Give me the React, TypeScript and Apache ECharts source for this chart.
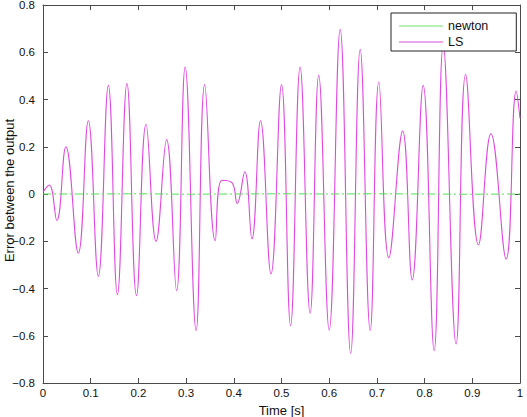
import React, { useEffect, useRef } from "react";
import * as echarts from "echarts";

// LS error signal: local extrema (time [s], error)
const lsTime = [
  0.0, 0.013, 0.029, 0.048, 0.074, 0.095, 0.116, 0.137, 0.156, 0.176, 0.196,
  0.216, 0.237, 0.259, 0.28, 0.298, 0.321, 0.339, 0.361, 0.375, 0.396, 0.407,
  0.423, 0.438, 0.456, 0.478, 0.5, 0.519, 0.539, 0.56, 0.578, 0.6, 0.623,
  0.645, 0.665, 0.686, 0.704, 0.725, 0.754, 0.774, 0.797, 0.82, 0.839, 0.866,
  0.886, 0.913, 0.939, 0.971, 0.992, 1.0,
];
const lsValue = [
  0.008, 0.038, -0.112, 0.2, -0.25, 0.31, -0.348, 0.46, -0.426, 0.467, -0.43,
  0.295, -0.2, 0.23, -0.409, 0.537, -0.578, 0.463, -0.197, 0.058, 0.048, -0.04,
  0.094, -0.19, 0.31, -0.338, 0.463, -0.557, 0.537, -0.505, 0.502, -0.576,
  0.697, -0.675, 0.612, -0.578, 0.474, -0.27, 0.266, -0.364, 0.46, -0.663,
  0.63, -0.635, 0.506, -0.215, 0.255, -0.275, 0.436, 0.32,
];

// newton error signal: essentially zero
const newtonTime = [0, 0.1, 0.2, 0.3, 0.4, 0.5, 0.6, 0.7, 0.8, 0.9, 1.0];
const newtonValue = [0, 0, 0.001, -0.001, 0, 0.001, 0, 0.001, 0, -0.001, 0];

const xTicks = { min: 0, max: 1, interval: 0.1 };
const yTicks = { min: -0.8, max: 0.8, interval: 0.2 };

const seriesNames = ["newton", "LS"];
const xTitle = "Time [s]";
const yTitle = "Error between the output";

const FONT = "Liberation Sans";
const TICK_FONT = "Liberation Sans Narrow, Liberation Sans";

export default function App() {
  const ref = useRef<HTMLDivElement>(null);

  useEffect(() => {
    if (!ref.current) return;
    const chart = echarts.init(ref.current, undefined, { renderer: "svg" });
    const axisColor = "#4a4a4a";
    const fmtY = (v: number) =>
      Math.abs(v) < 1e-9 ? "0" : v.toFixed(1).replace("-", "\u2212");
    const fmtX = (v: number) =>
      Math.abs(v) < 1e-9 ? "0" : Math.abs(v - 1) < 1e-9 ? "1" : v.toFixed(1);
    const baseAxis = {
      type: "value" as const,
      splitLine: { show: false },
      axisLine: { show: true, onZero: false, lineStyle: { color: axisColor, width: 1 } },
      axisTick: { show: true, inside: true, length: 5, lineStyle: { color: axisColor } },
    };
    const lsData = lsTime.map((t, i) => [t, lsValue[i]]);
    const newtonData = newtonTime.map((t, i) => [t, newtonValue[i]]);

    chart.setOption({
      animation: false,
      backgroundColor: "#ffffff",
      grid: {
        left: 43,
        right: 7,
        top: 5,
        bottom: 34,
        containLabel: false,
        outerBoundsMode: "none",
      },
      graphic: [
        {
          type: "text",
          x: 9.5,
          y: 190.5,
          rotation: Math.PI / 2,
          style: {
            text: yTitle,
            fontFamily: FONT,
            fontSize: 13,
            fill: "#111",
            align: "center",
            verticalAlign: "middle",
          },
        },
      ],
      xAxis: [
        {
          ...baseAxis,
          position: "bottom",
          ...xTicks,
          name: xTitle,
          nameLocation: "middle",
          nameGap: 17,
          nameTextStyle: { fontFamily: FONT, fontSize: 13, color: "#111" },
          axisLabel: {
            fontFamily: TICK_FONT,
            fontSize: 11.5,
            color: "#111",
            margin: 4,
            formatter: fmtX,
          },
        },
        {
          ...baseAxis,
          position: "top",
          ...xTicks,
          axisLabel: { show: false },
        },
      ],
      yAxis: [
        {
          ...baseAxis,
          position: "left",
          ...yTicks,
          axisLabel: {
            fontFamily: TICK_FONT,
            fontSize: 11.5,
            color: "#111",
            margin: 8,
            formatter: fmtY,
          },
        },
        {
          ...baseAxis,
          position: "right",
          ...yTicks,
          axisLabel: { show: false },
        },
      ],
      legend: {
        orient: "vertical",
        left: 391,
        top: 13,
        padding: [6, 28, 2, 8],
        itemGap: 2,
        itemWidth: 44,
        itemHeight: 1,
        backgroundColor: "#ffffff",
        borderColor: "#222",
        borderWidth: 1,
        borderRadius: 0,
        textStyle: { fontFamily: FONT, fontSize: 12.5, color: "#111", lineHeight: 14 },
        data: [
          { name: seriesNames[0], icon: "rect", itemStyle: { color: "#72e272" } },
          { name: seriesNames[1], icon: "rect", itemStyle: { color: "#d84ed8" } },
        ],
      },
      series: [
        {
          name: seriesNames[0],
          type: "line",
          xAxisIndex: 0,
          yAxisIndex: 0,
          data: newtonData,
          showSymbol: false,
          symbol: "none",
          lineStyle: { color: "#55dd55", width: 1, type: [8, 3, 2, 3] },
          itemStyle: { color: "#55dd55" },
          z: 3,
        },
        {
          name: seriesNames[1],
          type: "line",
          xAxisIndex: 0,
          yAxisIndex: 0,
          data: lsData,
          showSymbol: false,
          symbol: "none",
          smooth: 0.45,
          lineStyle: { color: "#e048e0", width: 1.1 },
          itemStyle: { color: "#e048e0" },
          z: 2,
        },
      ],
    });
    return () => chart.dispose();
  }, []);

  return (
    <div
      ref={ref}
      style={{ position: "fixed", left: 0, top: 0, width: 527, height: 417 }}
    />
  );
}
